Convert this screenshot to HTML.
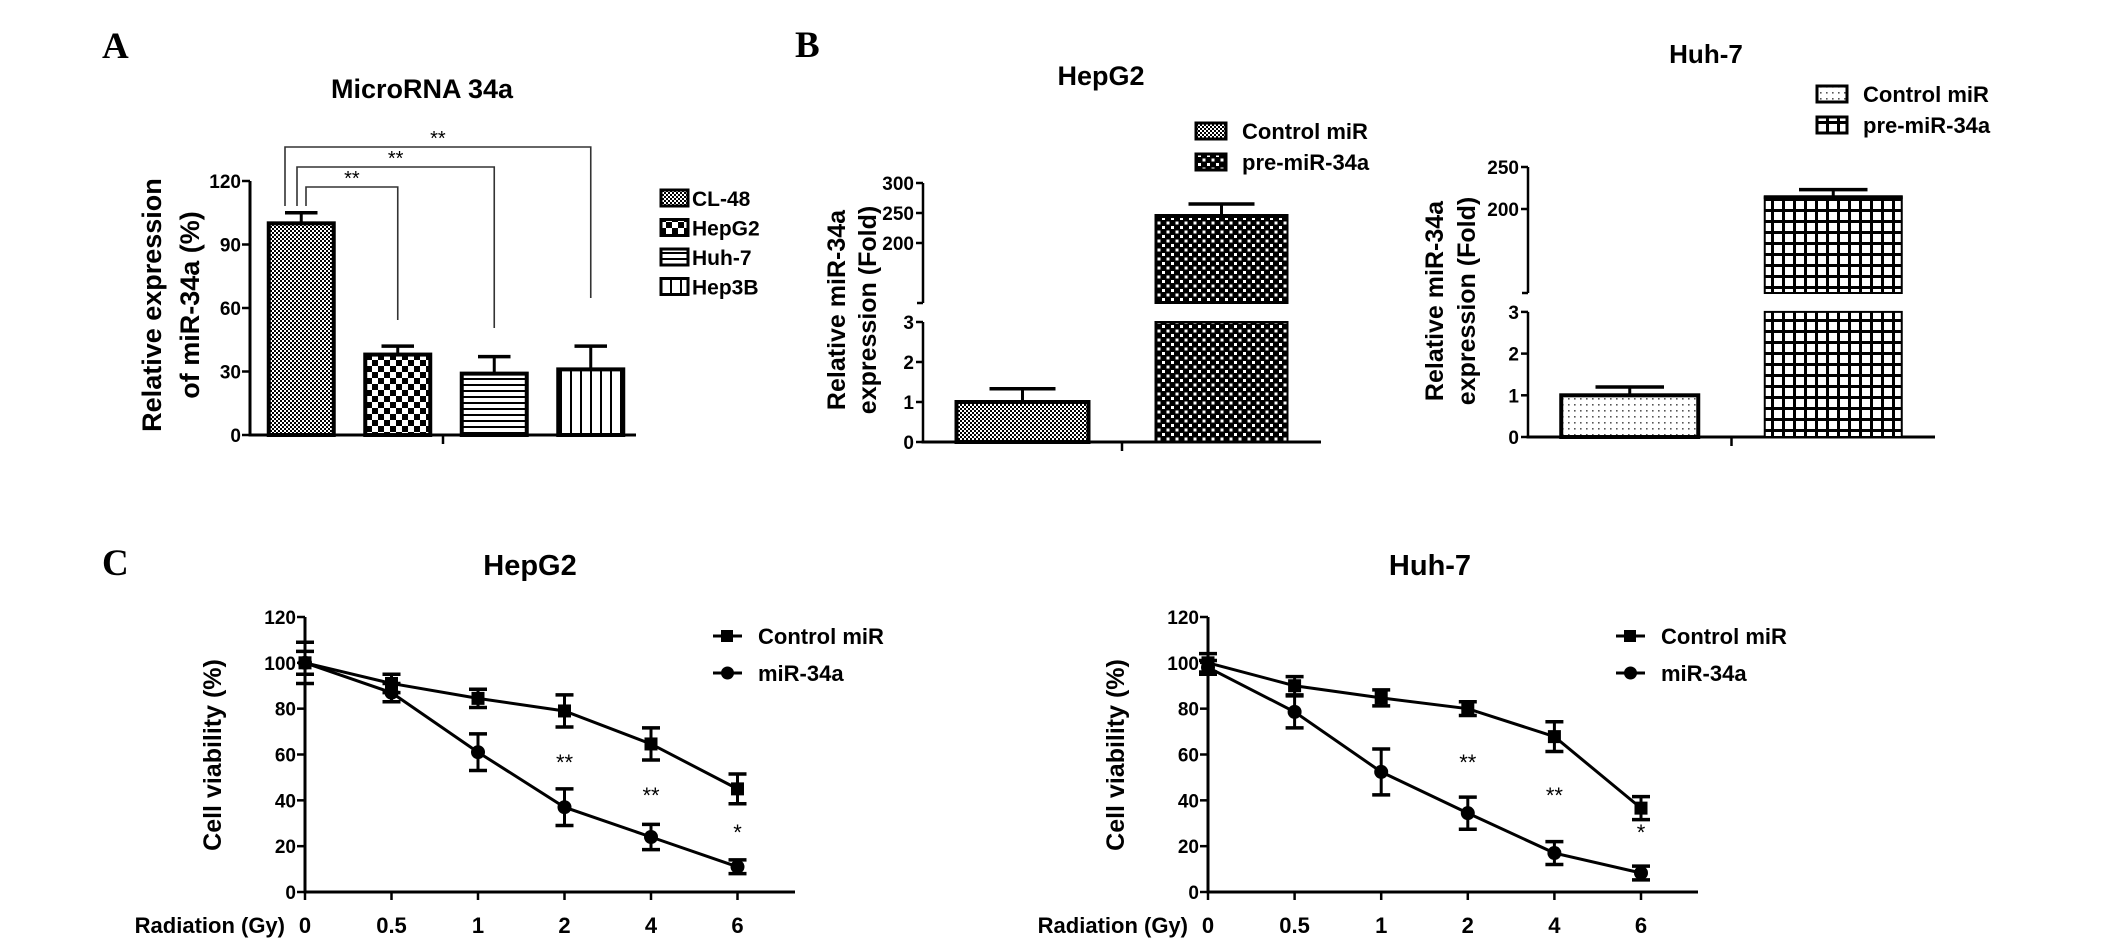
<!DOCTYPE html>
<html><head><meta charset="utf-8"><style>
html,body{margin:0;padding:0;background:#fff;}
svg{display:block;font-family:"Liberation Sans",Arial,sans-serif;}
</style></head><body>
<svg id="fig" width="2126" height="952" viewBox="0 0 2126 952" xmlns="http://www.w3.org/2000/svg">
<defs>
<pattern id="pFine" width="4" height="4" patternUnits="userSpaceOnUse"><rect width="4" height="4" fill="#fff"/><rect width="2" height="2" fill="#000"/><rect x="2" y="2" width="2" height="2" fill="#000"/></pattern>
<pattern id="pCheck" width="12" height="12" patternUnits="userSpaceOnUse"><rect width="12" height="12" fill="#fff"/><rect width="6" height="6" fill="#000"/><rect x="6" y="6" width="6" height="6" fill="#000"/></pattern>
<pattern id="pHoriz" width="6" height="6" patternUnits="userSpaceOnUse"><rect width="6" height="6" fill="#fff"/><rect y="0" width="6" height="2" fill="#000"/></pattern>
<pattern id="pVert" width="10" height="10" patternUnits="userSpaceOnUse"><rect width="10" height="10" fill="#fff"/><rect x="0" width="2" height="10" fill="#000"/></pattern>
<pattern id="pDot" width="9" height="9" patternUnits="userSpaceOnUse"><rect width="9" height="9" fill="#000"/><rect x="1" y="1" width="3" height="3" fill="#fff"/><rect x="5.5" y="5.5" width="3" height="3" fill="#fff"/></pattern>
<pattern id="pLight" width="6" height="6" patternUnits="userSpaceOnUse"><rect width="6" height="6" fill="#fff"/><rect x="2" y="2" width="1.6" height="1.6" fill="#555"/></pattern>
<pattern id="pGrid" width="11" height="11" patternUnits="userSpaceOnUse"><rect width="11" height="11" fill="#fff"/><rect width="11" height="3" fill="#000"/><rect width="3" height="11" fill="#000"/></pattern>
</defs>
<g id="root"></g>
</svg>
<script>
// ---- Panel A data ----
const aCategories = ["CL-48","HepG2","Huh-7","Hep3B"];
const aValues = [100, 38, 29, 31];
const aErrors = [5, 4, 8, 11];
const aTicks = [0, 30, 60, 90, 120];
// ---- Panel B data ----
const bGroups = ["Control miR","pre-miR-34a"];
const bHepValues = [1.0, 245];
const bHepErrors = [0.33, 20];
const bHuhValues = [1.0, 214];
const bHuhErrors = [0.2, 9];
const bHepTicksHigh = [200, 250, 300];
const bHuhTicksHigh = [200, 250];
const bTicksLow = [0, 1, 2, 3];
// ---- Panel C data ----
const cDoses = ["0","0.5","1","2","4","6"];
const cYTicks = [0, 20, 40, 60, 80, 100, 120];
const cHepControl = [100, 91, 84.5, 79, 64.6, 45];
const cHepControlErr = [5, 4, 4, 7, 7, 6.5];
const cHepMir = [100, 87, 61, 37, 24, 11];
const cHepMirErr = [9, 4, 8, 8, 5.5, 3];
const cHuhControl = [100, 90, 84.7, 80, 67.8, 36.6];
const cHuhControlErr = [4, 4, 3.5, 3, 6.5, 5];
const cHuhMir = [98, 78.6, 52.4, 34.4, 17, 8.3];
const cHuhMirErr = [3, 7, 10, 7, 5, 3];
const cStars = ["", "", "", "**", "**", "*"];

const NS = "http://www.w3.org/2000/svg";
const root = document.getElementById("root");
function mk(tag, attrs, parent) {
  const e = document.createElementNS(NS, tag);
  for (const k in attrs) e.setAttribute(k, attrs[k]);
  (parent || root).appendChild(e);
  return e;
}
function txt(s, x, y, size, parent, opts) {
  opts = opts || {};
  const t = mk("text", {x: x, y: y, "font-size": size, "font-weight": opts.weight || "bold",
    "text-anchor": opts.anchor || "start", fill: "#000"}, parent);
  if (opts.family) t.setAttribute("font-family", opts.family);
  if (opts.rotate) t.setAttribute("transform", "rotate(-90 " + x + " " + y + ")");
  t.textContent = s;
  return t;
}
function line(x1, y1, x2, y2, w, parent, color) {
  return mk("line", {x1: x1, y1: y1, x2: x2, y2: y2, stroke: color || "#000", "stroke-width": w}, parent);
}

// ---------- Panel letters ----------
[["A",102,58],["B",795,57],["C",102,575]].forEach(function(p){
  const t = txt(p[0], p[1], p[2], 37, root, {family: "'Liberation Serif', serif"});
  
  
});

// ---------- Panel A ----------
(function(){
  const g = mk("g", {});
  
  
  const x0 = 250, xEnd = 636, y0 = 435, pxPerUnit = (435 - 181) / 120;
  const yA = v => y0 - v * pxPerUnit;
  const t = txt("MicroRNA 34a", 422, 98, 27, g, {anchor: "middle"});
  
  
  const yl1 = txt("Relative expression", 161, 305, 27, g, {anchor: "middle", rotate: true});
  
  
  const yl2 = txt("of miR-34a (%)", 199, 305, 27, g, {anchor: "middle", rotate: true});
  
  
  line(x0, yA(120), x0, y0 + 1.5, 3, g);
  line(x0 - 1.5, y0, xEnd, y0, 3, g);
  line((x0 + xEnd) / 2, y0, (x0 + xEnd) / 2, y0 + 9, 2.5, g);
  aTicks.forEach(function(v){
    line(x0 - 8, yA(v), x0, yA(v), 2.5, g);
    const tl = txt(String(v), x0 - 9, yA(v) + 7, 19, g, {anchor: "end"});
    
    
  });
  const fills = ["url(#pFine)","url(#pCheck)","url(#pHoriz)","url(#pVert)"];
  const bw = 65, slot = (xEnd - x0) / aCategories.length;
  const centers = [];
  aCategories.forEach(function(c, i){
    const cx = x0 + slot * (i + 0.5) + 3;
    centers.push(cx);
    const top = yA(aValues[i]);
    const r = mk("rect", {x: cx - bw/2, y: top, width: bw, height: y0 - top, fill: fills[i], stroke: "#000", "stroke-width": 4}, g);
    
    
    const et = yA(aValues[i] + aErrors[i]);
    line(cx, top, cx, et, 3, g);
    line(cx - bw/4, et, cx + bw/4, et, 3.5, g);
    // legend
    const ly = 190 + i * 29.5;
    const lb = mk("rect", {x: 661, y: ly, width: 27, height: 16, fill: fills[i], stroke: "#000", "stroke-width": 3}, g);
    
    
    const lt = txt(c, 692, ly + 16, 21, g);
    
    
  });
  // significance brackets
  const br = [[1, 187, 320, 306], [2, 167, 328, 297], [3, 147, 298, 285]];
  br.forEach(function(b, k){
    const tx = centers[b[0]];
    const p = mk("polyline", {points: b[3] + ",206 " + b[3] + "," + b[1] + " " + tx + "," + b[1] + " " + tx + "," + b[2],
      fill: "none", stroke: "#333", "stroke-width": 1.6}, g);
    
    
    const s = txt("**", (b[3] + tx) / 2, b[1] - 2, 20, g, {anchor: "middle", weight: "normal"});
    
    
  });
})();

// ---------- Panel B ----------
function panelB(cfg) {
  const g = mk("g", {});
  
  
  const yv = function(v) {
    if (v <= 3) return cfg.y0 - v * cfg.lowPx;
    return cfg.y200 - (v - 200) * cfg.highPx;
  };
  const t = txt(cfg.title, cfg.titleX, cfg.titleY, cfg.titleSize, g, {anchor: "middle"});
  
  
  const l1 = txt("Relative miR-34a", cfg.labX1, cfg.labY, 25, g, {anchor: "middle", rotate: true});
  
  
  const l2 = txt("expression (Fold)", cfg.labX2, cfg.labY, 25, g, {anchor: "middle", rotate: true});
  
  
  const x0 = cfg.x0, xEnd = cfg.xEnd, y0 = cfg.y0;
  const yBreak = yv(100.0001);
  line(x0, yv(cfg.topTick), x0, yBreak, 2.5, g);
  line(x0 - 6, yBreak, x0, yBreak, 2.5, g);
  line(x0, yv(3), x0, y0 + 1.5, 2.5, g);
  line(x0 - 1.5, y0, xEnd, y0, 3, g);
  line((x0 + xEnd) / 2, y0, (x0 + xEnd) / 2, y0 + 9, 2.5, g);
  cfg.highTicks.forEach(function(v){
    line(x0 - 7, yv(v), x0, yv(v), 2.5, g);
    const tl = txt(String(v), x0 - 9, yv(v) + 7, 19, g, {anchor: "end"});
    
    
  });
  bTicksLow.forEach(function(v){
    line(x0 - 7, yv(v), x0, yv(v), 2.5, g);
    const tl = txt(String(v), x0 - 9, yv(v) + 7, 19, g, {anchor: "end"});
    
    
  });
  const slot = (xEnd - x0) / 2;
  cfg.values.forEach(function(v, i){
    const cx = x0 + slot * (i + 0.5) + cfg.shift;
    const bw = cfg.bw;
    const fill = cfg.fills[i];
    if (v <= 3) {
      const r = mk("rect", {x: cx - bw/2, y: yv(v), width: bw, height: y0 - yv(v), fill: fill, stroke: "#000", "stroke-width": 4}, g);
      
      
    } else {
      const r1 = mk("rect", {x: cx - bw/2, y: yv(3), width: bw, height: y0 - yv(3), fill: fill, stroke: "#000", "stroke-width": 2}, g);
      
      
      const r2 = mk("rect", {x: cx - bw/2, y: yv(v), width: bw, height: yBreak - yv(v), fill: fill, stroke: "#000", "stroke-width": 2}, g);
      
      
      line(cx - bw/2 - 1, yv(v), cx + bw/2 + 1, yv(v), 4, g);
    }
    const et = yv(v + cfg.errors[i]);
    line(cx, yv(v), cx, et, 3, g);
    line(cx - bw/4, et, cx + bw/4, et, 3.5, g);
    const ly = cfg.legY + i * 31;
    const lb = mk("rect", {x: cfg.legX, y: ly, width: 30, height: 16, fill: fill, stroke: "#000", "stroke-width": 3}, g);
    
    
    const lt = txt(bGroups[i], cfg.legX + 46, ly + 16, 22, g);
    
    
  });
}
panelB({name: "panel-b-hepg2-chart", title: "HepG2", titleX: 1101, titleY: 85, titleSize: 27,
  labX1: 845, labX2: 876, labY: 310, x0: 923, xEnd: 1321, y0: 442, lowPx: 40, y200: 243, highPx: 0.6,
  topTick: 300, highTicks: bHepTicksHigh, values: bHepValues, errors: bHepErrors, bw: 132, shift: 0,
  fills: ["url(#pFine)", "url(#pDot)"], legX: 1196, legY: 123});
panelB({name: "panel-b-huh7-chart", title: "Huh-7", titleX: 1706, titleY: 63, titleSize: 26,
  labX1: 1443, labX2: 1475, labY: 301, x0: 1528, xEnd: 1935, y0: 437, lowPx: 41.7, y200: 209, highPx: 0.84,
  topTick: 250, highTicks: bHuhTicksHigh, values: bHuhValues, errors: bHuhErrors, bw: 137, shift: 0,
  fills: ["url(#pLight)", "url(#pGrid)"], legX: 1817, legY: 86});

// ---------- Panel C ----------
function panelC(cfg) {
  const g = mk("g", {});
  
  
  const x0 = cfg.x0, y0 = 892, px = (892 - 617) / 120, step = cfg.step;
  const yv = v => y0 - v * px;
  const xv = i => x0 + i * step;
  const t = txt(cfg.title, cfg.titleX, 575, 29, g, {anchor: "middle"});
  
  
  const yl = txt("Cell viability (%)", cfg.labX, 755, 25, g, {anchor: "middle", rotate: true});
  
  
  const xl = txt("Radiation (Gy)", x0 - 20, 933, 22, g, {anchor: "end"});
  
  
  line(x0, yv(120), x0, y0 + 1.5, 3, g);
  line(x0 - 1.5, y0, cfg.xEnd, y0, 3, g);
  cYTicks.forEach(function(v){
    line(x0 - 8, yv(v), x0, yv(v), 2.5, g);
    const tl = txt(String(v), x0 - 9, yv(v) + 7, 19, g, {anchor: "end"});
    
    
  });
  cDoses.forEach(function(d, i){
    line(xv(i), y0, xv(i), y0 + 8, 2.5, g);
    const tl = txt(d, xv(i), 933, 22, g, {anchor: "middle"});
    
    
  });
  function series(vals, errs, marker, nm) {
    const pts = vals.map((v, i) => xv(i) + "," + yv(v)).join(" ");
    const pl = mk("polyline", {points: pts, fill: "none", stroke: "#000", "stroke-width": 3}, g);
    
    
    vals.forEach(function(v, i){
      const x = xv(i), y = yv(v), e = errs[i];
      line(x, yv(v + e), x, yv(v - e), 3, g);
      line(x - 9, yv(v + e), x + 9, yv(v + e), 3.5, g);
      line(x - 9, yv(v - e), x + 9, yv(v - e), 3.5, g);
      let m;
      if (marker === "square") m = mk("rect", {x: x - 6.5, y: y - 6.5, width: 13, height: 13, fill: "#000"}, g);
      else m = mk("circle", {cx: x, cy: y, r: 7, fill: "#000"}, g);
      
      
    });
  }
  series(cfg.control, cfg.controlErr, "square", "control-mir");
  series(cfg.mir, cfg.mirErr, "circle", "mir-34a");
  const starY = [0, 0, 0, 770, 803, 840];
  cStars.forEach(function(s, i){
    if (!s) return;
    const st = txt(s, xv(i), starY[i], 22, g, {anchor: "middle", weight: "normal"});
    
    
  });
  // legend
  const lx = cfg.legX;
  line(lx, 636, lx + 29, 636, 3, g);
  const s1 = mk("rect", {x: lx + 8, y: 630, width: 12, height: 12, fill: "#000"}, g);
  
  
  const t1 = txt("Control miR", lx + 45, 644, 22, g);
  
  
  line(lx, 673, lx + 29, 673, 3, g);
  const s2 = mk("circle", {cx: lx + 14.5, cy: 673, r: 6.5, fill: "#000"}, g);
  
  
  const t2 = txt("miR-34a", lx + 45, 681, 22, g);
  
  
}
panelC({name: "panel-c-hepg2-chart", title: "HepG2", titleX: 530, labX: 221, x0: 305, step: 86.5, xEnd: 795,
  control: cHepControl, controlErr: cHepControlErr, mir: cHepMir, mirErr: cHepMirErr, legX: 713});
panelC({name: "panel-c-huh7-chart", title: "Huh-7", titleX: 1430, labX: 1124, x0: 1208, step: 86.6, xEnd: 1698,
  control: cHuhControl, controlErr: cHuhControlErr, mir: cHuhMir, mirErr: cHuhMirErr, legX: 1616});
</script>
</body></html>
